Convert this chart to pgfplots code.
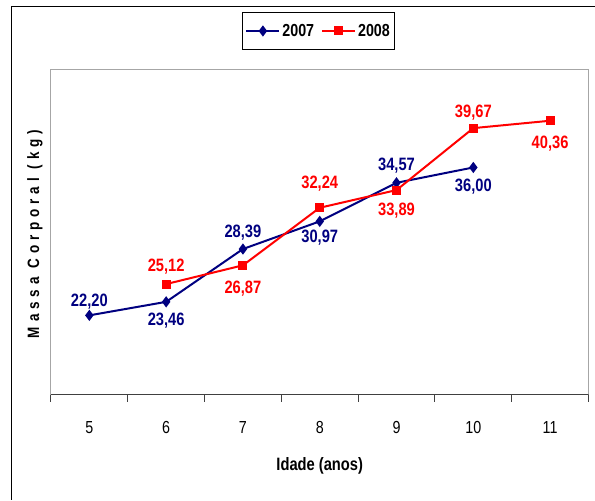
\documentclass[border=0pt]{standalone}
\usepackage{pgfplots}
\pgfplotsset{compat=1.18}
\usepackage{pgfplotstable}
\usepackage{fontspec}
\setmainfont{Liberation Sans}[FakeStretch=0.82]
\newfontfamily\spacedfont{Liberation Sans}[FakeStretch=0.82,LetterSpace=30]
\definecolor{navy}{HTML}{000080}
\definecolor{vermelho}{HTML}{FF0000}

% idade, massa, deslocamento do rotulo (bp)
\pgfplotstableread{
x y dy
5 22.20 14
6 23.46 -19
7 28.39 16
8 30.97 -16
9 34.57 17
10 36.00 -19
}\dadosA
\pgfplotstableread{
x y dy
6 25.12 17
7 26.87 -23
8 32.24 24
9 33.89 -21
10 39.67 16
11 40.36 -23
}\dadosB

\begin{document}
\begin{tikzpicture}
\path (0bp,0bp) rectangle (595bp,500bp);
\draw[black, line width=1bp] (11.5bp,0bp) -- (11.5bp,493bp) -- (595bp,493bp);
\begin{axis}[
at={(51bp,105bp)}, anchor=south west,
width=538bp, height=325bp, scale only axis,
xmin=4.5, xmax=11.5,
ymin=14.8, ymax=45.1,
ytick=\empty,
xtick={5,...,11}, xtick pos=bottom,
major tick length=0pt,
extra x ticks={4.5,5.5,...,11.5},
extra x tick labels={},
extra x tick style={major tick length=7bp, tick align=outside,
  tick style={black!75, line width=1bp}},
axis line style={gray!70, line width=1bp},
/pgf/number format/assume math mode=true,
ticklabel style={font=\fontsize{17.5}{17.5}\selectfont},
xticklabel style={yshift=-23bp},
xlabel={Idade (anos)},
xlabel style={at={(axis description cs:0.5,-0.22)}, anchor=center,
  font=\bfseries\fontsize{18}{18}\selectfont},
ylabel={Massa Corporal (kg)},
ylabel style={at={(axis description cs:-0.009,0.495)}, anchor=south,
  font=\spacedfont\bfseries\fontsize{16.5}{16.5}\selectfont},
legend columns=2,
legend style={at={(axis description cs:0.498,1.12)}, anchor=center,
  draw=black, line width=0.8bp, inner xsep=3bp, inner ysep=10bp,
  font=\bfseries\fontsize{17.5}{17.5}\selectfont,
  /tikz/every even column/.append style={column sep=5bp}},
legend image code/.code={\draw[mark repeat=2, mark phase=2, #1]
  plot coordinates {(0bp,0bp)(16.5bp,0bp)(33bp,0bp)};},
nodes near coords={\pgfmathprintnumber[fixed,fixed zerofill,precision=2,use comma]{\pgfplotspointmeta}},
visualization depends on={\thisrow{dy} \as \desl},
every node near coord/.append style={anchor=center, yshift=\desl bp,
  font=\bfseries\fontsize{18}{18}\selectfont},
]
\draw[black!75, line width=1.3bp] (rel axis cs:0,0) -- (rel axis cs:1,0);
\addplot[navy, line width=2bp, mark=diamond*, mark size=4bp,
  mark options={solid}, nodes near coords style={text=navy}] table[x=x,y=y] {\dadosA};
\addlegendentry{2007}
\addplot[vermelho, line width=2bp, mark=square*, mark size=3.5bp,
  mark options={solid}, nodes near coords style={text=vermelho}] table[x=x,y=y] {\dadosB};
\addlegendentry{2008}
\end{axis}
\end{tikzpicture}
\end{document}
